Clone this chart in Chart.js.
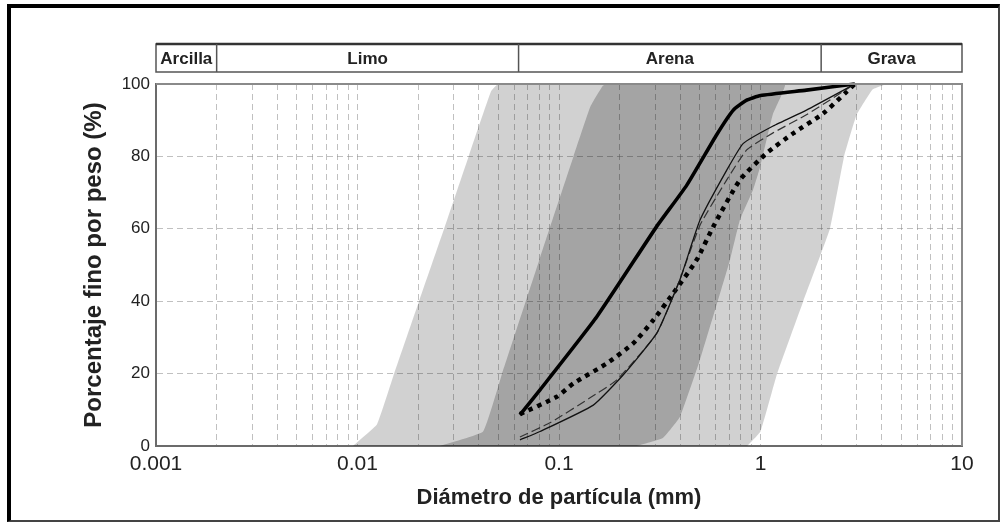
<!DOCTYPE html>
<html>
<head>
<meta charset="utf-8">
<script src="https://cdn.jsdelivr.net/npm/chart.js@4.4.1/dist/chart.umd.min.js"></script>
<style>
  html, body { margin: 0; padding: 0; background: #fff; }
  #wrap { position: relative; width: 1003px; height: 523px; overflow: hidden; }
  #curvas { position: absolute; left: 0; top: 0; }
  #marco {
    position: absolute; left: 7px; top: 4px; width: 993px; height: 518px;
    box-sizing: border-box; pointer-events: none;
    border-top: 4px solid #000; border-left: 4px solid #000;
    border-right: 2px solid #444; border-bottom: 2px solid #444;
  }
</style>
</head>
<body>
<div id="wrap">
  <canvas id="curvas" width="1003" height="523"></canvas>
  <div id="marco"></div>
</div>
<script>
/* DATA */
const tickLabels = ["0.001", "0.01", "0.1", "1", "10"];
const decades = [0.001, 0.01, 0.1, 1];
const gridSteps = [1, 2, 3, 4, 5, 6, 7, 8, 9];

const soilNames = ["Arcilla", "Limo", "Arena", "Grava"];
const soilLimits = [0.001, 0.002, 0.063, 2, 10];

// outer envelope (light)
const outerSize = [0.0095, 0.0125, 0.0152, 0.0202, 0.0269, 0.0356, 0.046, 0.05, 4.2, 3.6, 3.0, 2.6, 2.21, 1.63, 1.21, 1.0, 0.86];
const outerPct  = [0, 6, 20, 40, 60, 80, 98, 100, 100, 98.5, 91.5, 80, 60, 40, 20, 4, 0];

// inner envelope (dark)
const innerSize = [0.0257, 0.042, 0.0522, 0.0794, 0.0897, 0.118, 0.143, 0.165, 0.175, 1.32, 1.15, 0.995, 0.918, 0.79, 0.706, 0.501, 0.398, 0.328, 0.244];
const innerPct  = [0, 4, 20, 51, 60, 80, 93.7, 99.5, 100, 100, 91.5, 77, 70.7, 62.4, 51.4, 23.8, 8, 2.2, 0];

// gradation curves
const thickSize = [0.064, 0.0805, 0.154, 0.305, 0.43, 0.606, 0.733, 0.85, 1.0, 1.69, 2.94];
const thickPct  = [8.6, 15.5, 35.7, 60.6, 72, 86, 92.8, 95.5, 96.8, 98.3, 100];

const thinSize = [0.064, 0.0805, 0.148, 0.208, 0.305, 0.398, 0.501, 0.68, 0.822, 1.155, 1.69, 2.94];
const thinPct  = [1.7, 4, 11.3, 19.6, 31.1, 45.9, 62.4, 76.2, 83.6, 88.4, 92.8, 100];

const dashSize = [0.064, 0.0902, 0.1426, 0.193, 0.305, 0.398, 0.501, 0.68, 0.854, 1.155, 1.69, 2.94];
const dashPct  = [2.5, 6.4, 13.3, 18.2, 31, 46, 61, 73.5, 81.8, 86.5, 91.5, 100];

const dotSize = [0.064, 0.0975, 0.118, 0.1725, 0.234, 0.294, 0.369, 0.482, 0.583, 0.791, 1.074, 1.455, 2.05, 2.68, 2.94];
const dotPct  = [8.8, 13.6, 17.3, 22.8, 28.4, 34.8, 42.2, 51.4, 60.6, 73.5, 80.9, 86.4, 91.9, 97.9, 100];

/* HELPERS */
const FONT = "'Liberation Sans', Arial, sans-serif";
const pts = (xs, ys) => xs.map((x, i) => ({ x, y: ys[i] }));

const gridValues = [];
decades.forEach(d => gridSteps.forEach(m => gridValues.push(d * m)));
gridValues.push(10);

const isMajor = v => Math.abs(Math.log10(v) - Math.round(Math.log10(v))) < 1e-9;

/* HEADER + FRAME */
const soilHeader = {
  id: "soilHeader",
  afterDraw(chart) {
    const { ctx, chartArea: a, scales: { x } } = chart;
    const top = a.top - 40, bot = a.top - 12;

    ctx.save();
    // plot frame, top and right
    ctx.strokeStyle = "#8a8a8a";
    ctx.lineWidth = 2;
    ctx.beginPath();
    ctx.moveTo(a.left, a.top);
    ctx.lineTo(a.right, a.top);
    ctx.lineTo(a.right, a.bottom);
    ctx.stroke();

    // header strip
    ctx.strokeStyle = "#555";
    ctx.lineWidth = 1.5;
    ctx.strokeRect(a.left, top, a.right - a.left, bot - top);
    ctx.lineWidth = 2.5;
    ctx.strokeStyle = "#333";
    ctx.beginPath();
    ctx.moveTo(a.left, top);
    ctx.lineTo(a.right, top);
    ctx.stroke();

    ctx.lineWidth = 1.5;
    ctx.strokeStyle = "#555";
    ctx.fillStyle = "#222";
    ctx.font = "bold 17px " + FONT;
    ctx.textAlign = "center";
    ctx.textBaseline = "middle";
    soilNames.forEach((name, i) => {
      const x0 = x.getPixelForValue(soilLimits[i]);
      const x1 = x.getPixelForValue(soilLimits[i + 1]);
      if (i > 0) {
        ctx.beginPath();
        ctx.moveTo(x0, top);
        ctx.lineTo(x0, bot);
        ctx.stroke();
      }
      ctx.fillText(name, (x0 + x1) / 2, (top + bot) / 2 + 1);
    });
    ctx.restore();
  }
};

/* CHART */
const lineSet = (data, extra) => Object.assign({
  type: "line",
  data,
  borderColor: "#111",
  borderWidth: 1.3,
  pointRadius: 0,
  fill: false,
  tension: 0.15,
  clip: 4,
  order: 0
}, extra);

new Chart(document.getElementById("curvas"), {
  type: "line",
  data: {
    datasets: [
      lineSet(pts(thickSize, thickPct), { borderWidth: 3.6, borderColor: "#000" }),
      lineSet(pts(thinSize, thinPct), { borderWidth: 1.3 }),
      lineSet(pts(dashSize, dashPct), { borderWidth: 1.2, borderColor: "#333", borderDash: [9, 4] }),
      lineSet(pts(dotSize, dotPct), { borderWidth: 4.5, borderColor: "#000", borderDash: [4.5, 5], tension: 0.2 }),
      {
        data: pts(innerSize, innerPct),
        borderWidth: 0, pointRadius: 0, tension: 0.1,
        backgroundColor: "rgba(0,0,0,0.22)", fill: "shape", order: 2
      },
      {
        data: pts(outerSize, outerPct),
        borderWidth: 0, pointRadius: 0, tension: 0.1,
        backgroundColor: "rgba(0,0,0,0.18)", fill: "shape", order: 3
      }
    ]
  },
  options: {
    responsive: false,
    animation: false,
    devicePixelRatio: 1,
    layout: { padding: { left: 0, top: 84, right: 41, bottom: 0 } },
    plugins: {
      legend: { display: false },
      tooltip: { enabled: false },
      filler: { propagate: false }
    },
    scales: {
      x: {
        type: "logarithmic",
        min: 0.001,
        max: 10,
        afterBuildTicks: s => { s.ticks = gridValues.map(v => ({ value: v })); },
        afterFit: s => { s.height = 77; },
        ticks: {
          autoSkip: false,
          maxRotation: 0,
          padding: 6,
          color: "#222",
          font: { family: FONT, size: 21 },
          callback: v => isMajor(v) ? tickLabels[Math.round(Math.log10(v)) + 3] : ""
        },
        grid: { color: "rgba(140,140,140,0.55)", lineWidth: 1, drawTicks: false },
        border: { display: true, color: "#6b6b6b", width: 2, dash: [6, 4] },
        title: {
          display: true,
          text: "Diámetro de partícula (mm)",
          color: "#222",
          font: { family: FONT, size: 22, weight: "bold" },
          padding: { top: 0, bottom: 12 }
        }
      },
      y: {
        min: 0,
        max: 100,
        afterFit: s => { s.width = 156; },
        ticks: {
          stepSize: 20,
          padding: 6,
          color: "#222",
          font: { family: FONT, size: 17 }
        },
        grid: { color: "rgba(140,140,140,0.55)", lineWidth: 1, drawTicks: false },
        border: { display: true, color: "#6b6b6b", width: 2, dash: [6, 4] },
        title: {
          display: true,
          text: "Porcentaje fino por peso (%)",
          color: "#222",
          font: { family: FONT, size: 24, weight: "bold" },
          padding: { top: 80, bottom: 0 }
        }
      }
    }
  },
  plugins: [soilHeader]
});
</script>
</body>
</html>
